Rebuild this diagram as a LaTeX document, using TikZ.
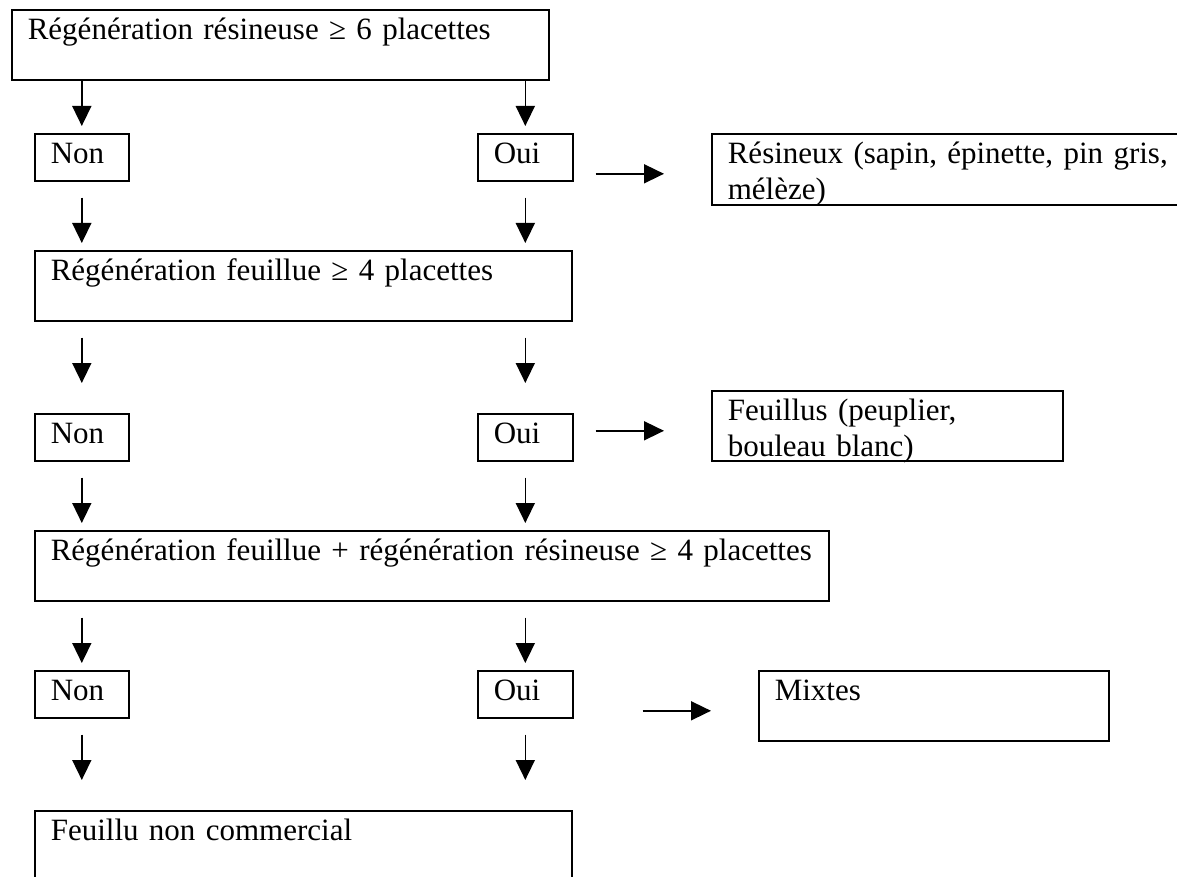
\documentclass[tikz,border=0pt]{standalone}
\usepackage{fontspec}
\setmainfont{Liberation Serif}
\usetikzlibrary{arrows.meta}
\tikzset{
  stepbox/.style={draw, line width=0.8pt, anchor=north west, align=left,
    inner xsep=8pt, inner ysep=0pt, text height=15pt,
    font=\fontsize{15.5}{18}\selectfont},
  arr/.style={-{Triangle[length=10pt,width=9.5pt]}, line width=0.8pt}
}
\begin{document}
\begin{tikzpicture}[x=0.5pt, y=-0.5pt]
      \useasboundingbox (0,0) rectangle (1177,877);
      \clip (0,0) rectangle (1177,877);
      % questions and answers
      \node[stepbox, text width=252.5pt, text depth=20pt] (q1) at (11,9) {Régénération résineuse ≥ 6 placettes};
      \node[stepbox, text width=31pt, text depth=8.5pt] (non1) at (34,133) {Non};
      \node[stepbox, text width=31.5pt, text depth=8.5pt] (oui1) at (477,133) {Oui};
      \node[stepbox, text width=264pt, text depth=20.5pt] (res) at (711,133) {Résineux (sapin, épinette, pin gris,\\mélèze)};
      \node[stepbox, text width=252.5pt, text depth=20pt] (q2) at (34,250) {Régénération feuillue ≥ 4 placettes};
      \node[stepbox, text width=31pt, text depth=8.5pt] (non2) at (34,413) {Non};
      \node[stepbox, text width=31.5pt, text depth=8.5pt] (oui2) at (477,413) {Oui};
      \node[stepbox, text width=159.5pt, text depth=20pt] (feu) at (711,390) {Feuillus (peuplier,\\bouleau blanc)};
      \node[stepbox, text width=381pt, text depth=20pt] (q3) at (34,530) {Régénération feuillue + régénération résineuse ≥ 4 placettes};
      \node[stepbox, text width=31pt, text depth=8.5pt] (non3) at (34,670) {Non};
      \node[stepbox, text width=31.5pt, text depth=8.5pt] (oui3) at (477,670) {Oui};
      \node[stepbox, text width=159pt, text depth=20pt] (mix) at (758,670) {Mixtes};
      \node[stepbox, text width=252.5pt, text depth=35pt] (fin) at (34,810) {Feuillu non commercial};
      % vertical arrows, both columns
      \foreach \col in {non1, oui1}
        \foreach \src/\dst/\gapa/\gapb in {q1/non1/0pt/3.5pt, non1/q2/8pt/3.5pt, q2/non2/8pt/15pt, non2/q3/8pt/3.5pt, q3/non3/8pt/3.5pt, non3/fin/8pt/15pt}
          \draw[arr, shorten <=\gapa, shorten >=\gapb] (\src.south -| \col) -- (\dst.north -| \col);
      % arrows to the results
      \draw[arr, shorten <=11pt, shorten >=23.5pt] ([yshift=-8.25pt]oui1.east) -- ([yshift=-8.25pt]oui1.east -| res.west);
      \draw[arr, shorten <=11pt, shorten >=23.5pt] ([yshift=3.25pt]oui2.east) -- ([yshift=3.25pt]oui2.east -| feu.west);
      \draw[arr, shorten <=34.5pt, shorten >=23.5pt] ([yshift=-8.25pt]oui3.east) -- ([yshift=-8.25pt]oui3.east -| mix.west);
    \end{tikzpicture}
\end{document}
